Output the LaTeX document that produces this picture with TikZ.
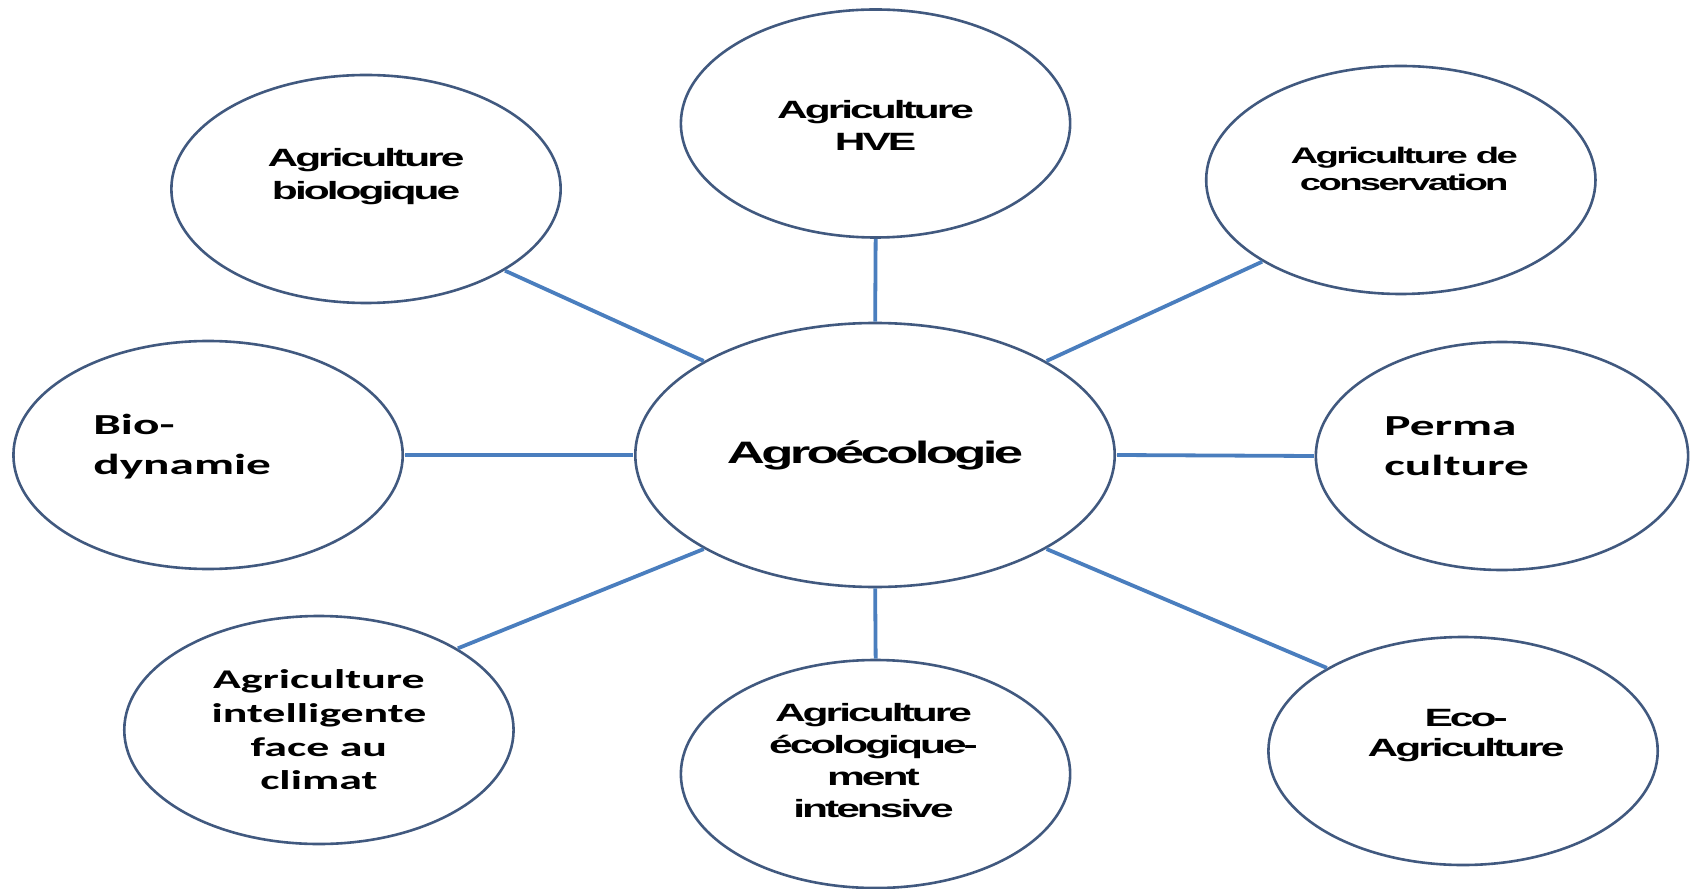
\documentclass[tikz,border=0pt]{standalone}
\usepackage{fontspec}
\setmainfont{Liberation Sans}
\newfontfamily\gth[LetterSpace=-7]{Liberation Sans}
\newfontfamily\calib{Carlito}
\usetikzlibrary{shapes.geometric}
\definecolor{rim}{HTML}{41597F}
\definecolor{spoke}{HTML}{4A7EBE}

\begin{document}
\begin{tikzpicture}[x=1pt,y=1pt,xscale=1.7,transform shape,
 bulle/.style={ellipse,draw=rim,line width=2.6pt,inner sep=0pt,minimum width=229pt,minimum height=228pt},
 lien/.style={draw=spoke,line width=3.8pt},
 gth/.style={font=\gth\bfseries\fontsize{25}{32}\selectfont,align=center,inner sep=0pt},
 cal/.style={font=\calib\bfseries\fontsize{27}{33.7}\selectfont,inner sep=0pt}]
 \useasboundingbox (0,0) rectangle (994.1,888);
 \node[bulle,minimum width=282pt,minimum height=264pt,font=\gth\bfseries\fontsize{31}{34}\selectfont] (agro) at (514.7,433) {Agro\'ecologie};
 \node[bulle] (hve) at (515,764.5) {};
 \node[bulle] (bio) at (215.3,699) {};
 \node[bulle] (cons) at (824,708) {};
 \node[bulle] (dyn) at (122.4,433) {};
 \node[bulle,minimum width=219pt] (perma) at (883.5,432) {};
 \node[bulle,cal,align=center] (intel) at (187.6,158) {Agriculture\\intelligente\\face au\\climat};
 \node[bulle] (ecol) at (515,114) {};
 \node[bulle] (eco) at (860.6,137) {};
 \node[gth] (hve-t) at (515,763) {Agriculture\\HVE};
 \node[gth,font=\gth\bfseries\fontsize{25}{33}\selectfont] (bio-t) at (215.3,711.5) {Agriculture\\biologique};
 \node[gth,font=\gth\bfseries\fontsize{22.5}{27}\selectfont] (cons-t) at (826,719.5) {Agriculture de\\conservation};
 \node[gth] (ecol-t) at (513.8,127) {Agriculture\\\'ecologique-\\ment\\intensive};
 \node[gth,font=\gth\bfseries\fontsize{25}{30}\selectfont] (eco-t) at (862.4,152) {Eco-\\Agriculture};
 \node[cal,font=\calib\bfseries\fontsize{29}{40}\selectfont,align=left,anchor=west] (dyn-t) at (54.7,441.5) {Bio-\\dynamie};
 \node[cal,font=\calib\bfseries\fontsize{29}{40}\selectfont,align=left,anchor=west] (perma-t) at (814.1,441.5) {Perma\\culture};
 \draw[lien] (hve.south) -- (agro.north);
 \draw[lien] (ecol.north) -- (agro.south);
 \draw[lien] (dyn.east) -- (agro.west);
 \draw[lien] (perma.west) -- (agro.east);
 \draw[lien] (bio.-45) -- (agro.137);
 \draw[lien] (cons.-135) -- (agro.43);
 \draw[lien] (intel.45) -- (agro.-137);
 \draw[lien] (eco.134) -- (agro.-43);
\end{tikzpicture}
\end{document}
